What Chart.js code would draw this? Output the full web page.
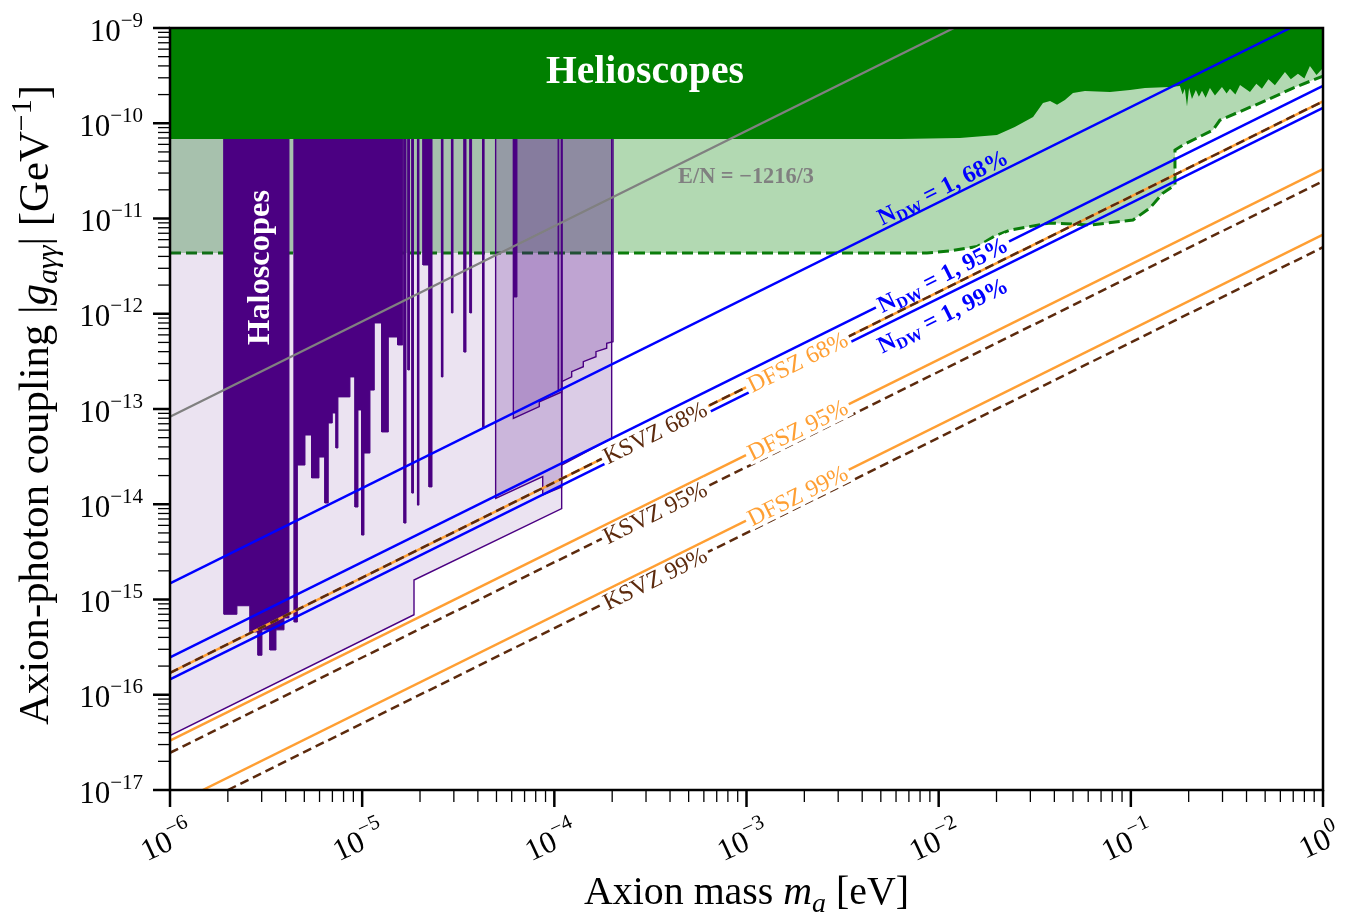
<!DOCTYPE html>
<html><head><meta charset="utf-8">
<script src="https://cdn.jsdelivr.net/npm/chart.js@4.4.1/dist/chart.umd.min.js"></script>
<style>html,body{margin:0;padding:0;background:#fff}#wrap{width:1353px;height:913px;position:relative}</style>
</head><body><div id="wrap"><canvas id="c"></canvas></div>
<script>
// ---------------- data ----------------
const X_MIN = 1e-6, X_MAX = 1;
const Y_MIN = 1e-17, Y_MAX = 1e-9;
const xTickExponents = [-6, -5, -4, -3, -2, -1, 0];
const yTickExponents = [-17, -16, -15, -14, -13, -12, -11, -10, -9];
const minorMultipliers = [2, 3, 4, 5, 6, 7, 8, 9];

// Helioscopes (dark green) lower edge  [m_a (eV), g (GeV^-1)]
const helioscopeEdge = [
  [1e-6,6.84e-11],[6.29e-3,6.84e-11],[1.29e-2,7.0e-11],[2.01e-2,7.53e-11],[2.49e-2,9.14e-11],
  [3.10e-2,1.16e-10],[3.49e-2,1.63e-10],[3.80e-2,1.71e-10],[4.13e-2,1.56e-10],[4.54e-2,1.75e-10],
  [5.0e-2,2.08e-10],[5.77e-2,2.18e-10],[7.79e-2,2.13e-10],[9.9e-2,2.23e-10],[0.1185,2.34e-10],
  [0.16,2.4e-10],[0.18,2.46e-10],[0.186,2.0e-10],[0.191,2.3e-10],[0.196,1.5e-10],[0.201,2.34e-10],
  [0.208,1.8e-10],[0.218,2.23e-10],[0.226,1.9e-10],[0.2346,2.2e-10],[0.245,1.85e-10],[0.258,2.34e-10],
  [0.274,1.95e-10],[0.298,2.4e-10],[0.315,2.05e-10],[0.328,2.3e-10],[0.35,2.0e-10],[0.37,2.52e-10],
  [0.417,2.13e-10],[0.45,2.6e-10],[0.481,2.3e-10],[0.52,2.9e-10],[0.562,2.5e-10],
  [0.634,3.45e-10],[0.68,2.9e-10],[0.741,3.3e-10],[0.8,2.95e-10],[0.855,3.99e-10],[0.925,3.21e-10],[1,3.8e-10]
];
// Light green (dashed) lower edge
const helioLightEdge = [
  [1e-6,4.35e-12],[8.69e-3,4.35e-12],[1.146e-2,4.56e-12],[1.583e-2,5.08e-12],[1.964e-2,6.55e-12],
  [2.35e-2,7.57e-12],[3.80e-2,8.97e-12],[6.13e-2,8.55e-12],[0.1026,9.64e-12],[0.1258,1.29e-11],
  [0.147,1.85e-11],[0.1697,2.25e-11],[0.1697,5.24e-11],[0.1868,5.91e-11],[0.2676,8.49e-11],
  [0.291,1.08e-10],[0.511,1.75e-10],[0.698,2.34e-10],[1,3.13e-10]
];
// Haloscope light regions
const haloBackground = [[1e-6,3.72e-17],[1.861e-5,6.92e-16],[1.861e-5,1.60e-15],[1.092e-4,9.0e-15],[1.092e-4,1e-9]];
const haloRegionB = [[4.95e-5,1e-9],[4.95e-5,1.15e-14],[8.70e-5,1.95e-14],[8.70e-5,1.25e-14],[1.092e-4,1.52e-14],[1.092e-4,1e-9]];
const haloRegionC = [[6.12e-5,1e-9],[6.12e-5,7.98e-14],[8.35e-5,1.06e-13],[8.35e-5,1.19e-13],[1.092e-4,1.51e-13],[1.092e-4,1e-9]];
const haloRegionD = [[1.048e-4,1e-9],[1.048e-4,1.58e-13],[1.092e-4,1.62e-13],[1.092e-4,1.94e-13],[1.231e-4,2.18e-13],
  [1.231e-4,2.47e-13],[1.415e-4,2.78e-13],[1.415e-4,3.14e-13],[1.647e-4,3.54e-13],[1.647e-4,4.0e-13],
  [1.873e-4,4.34e-13],[1.873e-4,4.9e-13],[2.02e-4,5.09e-13],[2.02e-4,1e-9]];
const haloRegionE = [[1.092e-4,1e-9],[1.092e-4,2.58e-14],[1.988e-4,4.92e-14],[1.988e-4,1e-9]];
// Haloscope exclusion bars [m_left, m_right, g_bottom]
const haloBars = [
  [1.91e-6,2.23e-6,7.0e-16],[2.23e-6,2.61e-6,8.6e-16],[2.61e-6,2.87e-6,4.56e-16],[2.87e-6,3.01e-6,2.6e-16],
  [3.01e-6,3.31e-6,4.8e-16],[3.31e-6,3.56e-6,2.95e-16],[3.56e-6,3.92e-6,4.8e-16],[3.92e-6,4.16e-6,6.4e-16],
  [4.43e-6,4.60e-6,5.8e-16],[4.60e-6,5.04e-6,2.58e-14],[5.04e-6,5.46e-6,5.33e-14],[5.46e-6,5.96e-6,1.89e-14],
  [5.96e-6,6.40e-6,3.13e-14],[6.40e-6,6.66e-6,1.03e-14],[6.66e-6,6.99e-6,7.13e-14],[6.99e-6,7.31e-6,9.08e-14],
  [7.31e-6,7.48e-6,3.90e-14],[7.48e-6,8.64e-6,1.34e-13],[8.64e-6,9.18e-6,2.17e-13],[9.18e-6,9.51e-6,9.35e-15],
  [9.51e-6,9.94e-6,9.77e-14],[9.94e-6,1.022e-5,4.75e-15],[1.022e-5,1.098e-5,3.45e-14],[1.098e-5,1.156e-5,1.58e-13],
  [1.156e-5,1.264e-5,8.0e-13],[1.264e-5,1.368e-5,5.74e-14],[1.368e-5,1.531e-5,5.70e-13],[1.531e-5,1.625e-5,4.70e-13],
  [1.651e-5,1.691e-5,6.35e-15],[1.732e-5,1.763e-5,2.57e-13],[1.816e-5,1.849e-5,1.31e-14],[1.940e-5,1.975e-5,9.8e-15],
  [2.073e-5,2.228e-5,3.25e-12],[2.228e-5,2.309e-5,1.52e-14],[2.586e-5,2.634e-5,2.17e-13],[2.916e-5,2.97e-5,1.02e-12],
  [3.39e-5,3.47e-5,3.96e-13],[3.64e-5,3.71e-5,1.02e-12],[4.23e-5,4.31e-5,6.47e-14],[6.17e-5,6.39e-5,1.5e-12]
];
// Model lines
const lineEN = [[1e-6,8.3e-14],[1.2e-2,1e-9]];
const lineNDW68 = [[1e-6,1.48e-15],[0.676,1e-9]];
const lineNDW95 = [[1e-6,2.47e-16],[1,2.47e-10]];
const lineNDW99 = [[1e-6,1.45e-16],[1,1.45e-10]];
const lineDFSZ68 = [[1e-6,1.70e-16],[1,1.70e-10]];
const lineDFSZ95 = [[1e-6,3.3e-17],[1,3.3e-11]];
const lineDFSZ99 = [[1.48e-6,1e-17],[1,6.76e-12]];
const lineKSVZ68 = [[1e-6,1.70e-16],[1,1.70e-10]];
const lineKSVZ95 = [[1e-6,2.46e-17],[1,2.46e-11]];
const lineKSVZ99 = [[2.0e-6,1e-17],[1,5.0e-12]];

// Label anchors [text, m, g]
const ksvzLabels = [['KSVZ 68%',3.34e-4,5.68e-14],['KSVZ 95%',3.34e-4,8.22e-15],['KSVZ 99%',3.34e-4,1.67e-15]];
const dfszLabels = [['DFSZ 68%',1.84e-3,3.13e-13],['DFSZ 95%',1.84e-3,6.07e-14],['DFSZ 99%',1.84e-3,1.244e-14]];
const ndwLabels = [[' = 1, 68%',1.047e-2,2.14e-11,false],[' = 1, 95%',1.047e-2,2.586e-12,true],[' = 1, 99%',1.047e-2,9.7e-13,false]];
const regionLabels = { helio:[2.96e-4,3.62e-10], halo:[2.87e-6,3.06e-12], en:[9.94e-4,2.79e-11] };

// ---------------- styles ----------------
const SERIF = '"Liberation Serif","DejaVu Serif",serif';
const BLUE = '#0000ff', ORANGE = '#ff9f33', BROWN = '#5c2a0d', GRAY = '#808080', INDIGO = '#4b0082';

const toXY = a => a.map(([x,y]) => ({x, y}));
function barsToPoints(bars, top) {
  const pts = []; let prevR = null;
  for (const [l, r, g] of bars) {
    if (prevR === null || Math.abs(l - prevR) / l > 1e-3) {
      if (prevR !== null) pts.push({x: prevR, y: top});
      pts.push({x: l, y: top});
    }
    pts.push({x: l, y: g}, {x: r, y: g});
    prevR = r;
  }
  pts.push({x: prevR, y: top});
  return pts;
}
function area(data, bg, bc, bw, order, extra) {
  return Object.assign({data, fill: 'end', backgroundColor: bg, borderColor: bc, borderWidth: bw,
    pointRadius: 0, tension: 0, order, clip: 0}, extra || {});
}
function line(data, color, width, dash, order) {
  return {data: toXY(data), fill: false, borderColor: color, borderWidth: width, borderDash: dash || [],
    pointRadius: 0, tension: 0, order, clip: 0, borderCapStyle: 'butt'};
}

const datasets = [
  line(lineNDW68, BLUE, 2.5, null, 1),
  line(lineNDW95, BLUE, 2.5, null, 1),
  line(lineNDW99, BLUE, 2.5, null, 1),
  line(lineKSVZ68, BROWN, 2.5, [9,5], 2),
  line(lineKSVZ95, BROWN, 2.5, [9,5], 2),
  line(lineKSVZ99, BROWN, 2.5, [9,5], 2),
  line(lineDFSZ68, ORANGE, 2.5, null, 3),
  line(lineDFSZ95, ORANGE, 2.5, null, 3),
  line(lineDFSZ99, ORANGE, 2.5, null, 3),
  line(lineEN, GRAY, 2.3, null, 4),
  area(toXY(helioscopeEdge), '#008000', '#008000', 0, 5),
  area(barsToPoints(haloBars, Y_MAX), INDIGO, INDIGO, 1, 6),
  area(toXY(haloRegionD), 'rgba(75,0,130,0.2)', INDIGO, 1.4, 7),
  area(toXY(haloRegionE), 'rgba(75,0,130,0.2)', INDIGO, 1.4, 8),
  area(toXY(haloRegionC), 'rgba(75,0,130,0.2)', INDIGO, 1.4, 9),
  area(toXY(haloRegionB), 'rgba(75,0,130,0.2)', INDIGO, 1.4, 10),
  area(toXY(haloBackground), 'rgba(75,0,130,0.11)', INDIGO, 1.4, 11),
  area(toXY(helioLightEdge), 'rgba(0,128,0,0.3)', '#0a7d0a', 3, 12, {borderDash: [11,5]})
];

// ---------------- drawing helpers ----------------
function richWidth(ctx, segs) { let w = 0; for (const s of segs) { ctx.font = s.font; w += ctx.measureText(s.t).width; } return w; }
function drawRich(ctx, segs, x, y) {
  let cx = x;
  for (const s of segs) { ctx.font = s.font; ctx.fillText(s.t, cx, y + (s.dy || 0)); cx += ctx.measureText(s.t).width; }
}
function fitFont(ctx, make, target) { const w = richWidth(ctx, make(40)); return make(40 * target / w); }

const decor = {
  id: 'decor',
  afterDatasetsDraw(chart) {
    const ctx = chart.ctx, xs = chart.scales.x, ys = chart.scales.y;
    const ang = Math.atan2(ys.getPixelForValue(1e-15) - ys.getPixelForValue(1e-16),
                           xs.getPixelForValue(1e-5) - xs.getPixelForValue(1e-6));
    ctx.save();
    ctx.textAlign = 'left'; ctx.textBaseline = 'alphabetic';
    const drawLabel = (segs, m, g, color, box) => {
      ctx.save();
      ctx.translate(xs.getPixelForValue(m), ys.getPixelForValue(g));
      ctx.rotate(ang);
      const w = richWidth(ctx, segs);
      if (box) { ctx.fillStyle = '#ffffff'; ctx.fillRect(-w/2 - 3, -9.5, w + 6, 21); }
      ctx.fillStyle = color;
      drawRich(ctx, segs, -w/2, 8);
      ctx.restore();
    };
    for (const [t, m, g] of ksvzLabels) drawLabel([{t, font: `24px ${SERIF}`}], m, g, BROWN, true);
    for (const [t, m, g] of dfszLabels) drawLabel([{t, font: `24px ${SERIF}`}], m, g, ORANGE, true);
    for (const [t, m, g, box] of ndwLabels) drawLabel([
      {t: 'N', font: `bold 24px ${SERIF}`},
      {t: 'DW', font: `bold 16px ${SERIF}`, dy: 4},
      {t, font: `bold 24px ${SERIF}`}], m, g, BLUE, box);

    // Region labels
    let segs = fitFont(ctx, fs => [{t: 'Helioscopes', font: `bold ${fs}px ${SERIF}`, fs}], 198);
    let fs = segs[0].fs;
    ctx.fillStyle = '#ffffff';
    let w = richWidth(ctx, segs);
    drawRich(ctx, segs, xs.getPixelForValue(regionLabels.helio[0]) - w/2, ys.getPixelForValue(regionLabels.helio[1]) + 0.33*fs);

    segs = fitFont(ctx, fs => [{t: 'Haloscopes', font: `bold ${fs}px ${SERIF}`, fs}], 155);
    fs = segs[0].fs; w = richWidth(ctx, segs);
    ctx.save();
    ctx.translate(xs.getPixelForValue(regionLabels.halo[0]), ys.getPixelForValue(regionLabels.halo[1]));
    ctx.rotate(-Math.PI/2);
    drawRich(ctx, segs, -w/2, 0.33*fs);
    ctx.restore();

    segs = fitFont(ctx, fs => [{t: 'E/N = \u22121216/3', font: `bold ${fs}px ${SERIF}`, fs}], 136);
    fs = segs[0].fs; w = richWidth(ctx, segs);
    ctx.fillStyle = GRAY;
    drawRich(ctx, segs, xs.getPixelForValue(regionLabels.en[0]) - w/2, ys.getPixelForValue(regionLabels.en[1]) + 0.33*fs);
    ctx.restore();
  },
  afterDraw(chart) {
    const ctx = chart.ctx, xs = chart.scales.x, ys = chart.scales.y, a = chart.chartArea;
    ctx.save();
    // frame
    ctx.strokeStyle = '#000'; ctx.lineWidth = 2.5;
    ctx.strokeRect(a.left, a.top, a.right - a.left, a.bottom - a.top);
    // ticks
    const tick = (x1, y1, x2, y2, w) => { ctx.lineWidth = w; ctx.beginPath(); ctx.moveTo(x1, y1); ctx.lineTo(x2, y2); ctx.stroke(); };
    for (const k of yTickExponents) {
      const v = Math.pow(10, k), py = ys.getPixelForValue(v);
      tick(a.left, py, a.left - 17, py, 2.5);
      if (k < yTickExponents[yTickExponents.length - 1]) for (const j of minorMultipliers) {
        const p = ys.getPixelForValue(j * v); tick(a.left, p, a.left - 12, p, 1.3);
      }
    }
    for (const k of xTickExponents) {
      const v = Math.pow(10, k), px = xs.getPixelForValue(v);
      tick(px, a.bottom, px, a.bottom + 17, 2.5);
      if (k < xTickExponents[xTickExponents.length - 1]) for (const j of minorMultipliers) {
        const p = xs.getPixelForValue(j * v); tick(p, a.bottom, p, a.bottom + 12, 1.3);
      }
    }
    // tick labels
    ctx.fillStyle = '#000'; ctx.textAlign = 'left'; ctx.textBaseline = 'alphabetic';
    const base = `31px ${SERIF}`, sup = `21px ${SERIF}`;
    for (const k of yTickExponents) {
      const py = ys.getPixelForValue(Math.pow(10, k));
      const segs = [{t: '10', font: base}, {t: '\u2212' + Math.abs(k), font: sup, dy: -14}];
      const w = richWidth(ctx, segs);
      drawRich(ctx, segs, a.left - 27 - w, py + 12.5);
    }
    for (const k of xTickExponents) {
      const px = xs.getPixelForValue(Math.pow(10, k));
      const segs = [{t: '10', font: base}, {t: (k < 0 ? '\u2212' : '') + Math.abs(k), font: sup, dy: -14}];
      const w = richWidth(ctx, segs);
      ctx.save();
      ctx.translate(px - 3, a.bottom + 52);
      ctx.rotate(-25 * Math.PI / 180);
      drawRich(ctx, segs, -w/2, 9);
      ctx.restore();
    }
    // axis titles
    let segs = fitFont(ctx, fs => [
      {t: 'Axion mass ', font: `${fs}px ${SERIF}`},
      {t: 'm', font: `italic ${fs}px ${SERIF}`},
      {t: 'a', font: `italic ${fs*0.7}px ${SERIF}`, dy: fs*0.2},
      {t: ' [eV]', font: `${fs}px ${SERIF}`}], 325);
    let w = richWidth(ctx, segs);
    drawRich(ctx, segs, (a.left + a.right)/2 - w/2, a.bottom + 114);

    segs = fitFont(ctx, fs => [
      {t: 'Axion-photon coupling |', font: `${fs}px ${SERIF}`},
      {t: 'g', font: `italic ${fs}px ${SERIF}`},
      {t: 'a\u03b3\u03b3', font: `italic ${fs*0.7}px ${SERIF}`, dy: fs*0.22},
      {t: '| [GeV', font: `${fs}px ${SERIF}`},
      {t: '\u22121', font: `${fs*0.7}px ${SERIF}`, dy: -fs*0.4},
      {t: ']', font: `${fs}px ${SERIF}`}], 640);
    w = richWidth(ctx, segs);
    ctx.save();
    ctx.translate(a.left - 122, (a.top + a.bottom)/2 - 4);
    ctx.rotate(-Math.PI/2);
    drawRich(ctx, segs, -w/2, 0);
    ctx.restore();
    ctx.restore();
  }
};

new Chart(document.getElementById('c'), {
  type: 'line',
  data: {datasets},
  options: {
    responsive: true, maintainAspectRatio: false, animation: false, events: [],
    layout: {padding: {left: 170, right: 30, top: 28, bottom: 123}},
    plugins: {legend: {display: false}, tooltip: {enabled: false}},
    scales: {
      x: {type: 'logarithmic', min: X_MIN, max: X_MAX, display: false},
      y: {type: 'logarithmic', min: Y_MIN, max: Y_MAX, display: false}
    }
  },
  plugins: [decor]
});
</script></body></html>
